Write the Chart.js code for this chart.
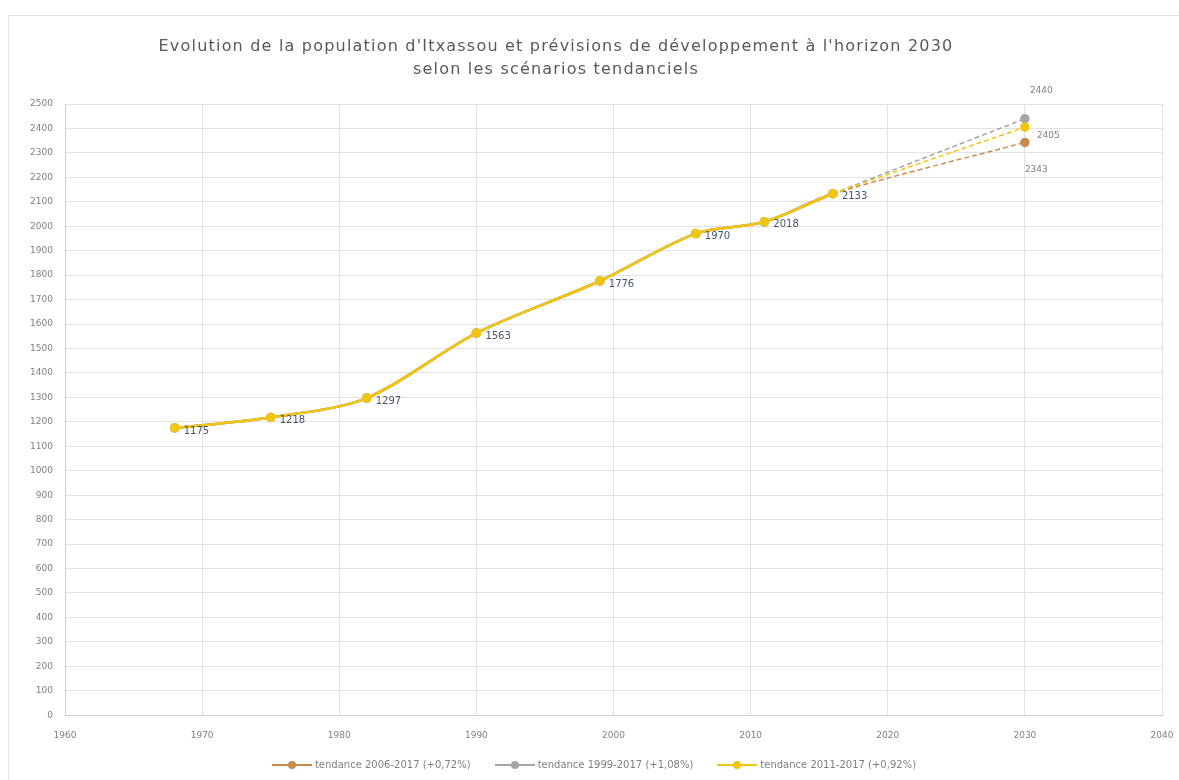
<!DOCTYPE html>
<html lang="fr">
<head>
  <meta charset="UTF-8">
  <title>Evolution de la population d'Itxassou</title>
  <script src="https://cdn.jsdelivr.net/npm/chart.js"></script>
  <style>
    body {
      margin: 0;
      background: #ffffff;
      font-family: "DejaVu Sans", Arial, sans-serif;
    }
    #frame {
      position: absolute;
      left: 8px;
      top: 15px;
      width: 1172px;
      height: 770px;
      border: 1px solid #e3e3e3;
      box-sizing: border-box;
    }
    #chart-wrap {
      position: absolute;
      left: 0;
      top: 0;
      width: 1179px;
      height: 780px;
    }
    #title {
      position: absolute;
      left: 0;
      width: 1112px;
      top: 34px;
      text-align: center;
      font-size: 16px;
      line-height: 23px;
      letter-spacing: 1.2px;
      color: #595959;
    }
    #legend {
      position: absolute;
      left: 0;
      width: 1188px;
      top: 759px;
      display: flex;
      justify-content: center;
      gap: 24px;
      font-size: 10px;
      color: #7f7f7f;
    }
    .item { display: flex; align-items: center; }
    .mark {
      position: relative;
      width: 40px;
      height: 2px;
      margin-right: 3px;
    }
    .mark::after {
      content: "";
      position: absolute;
      left: 16px;
      top: -3px;
      width: 8px;
      height: 8px;
      border-radius: 50%;
      background: inherit;
    }
  </style>
</head>
<body>
<div id="frame"></div>
<div id="chart-wrap">
  <canvas id="popChart"></canvas>
</div>
<div id="title">
  Evolution de la population d'Itxassou et prévisions de développement à l'horizon 2030<br>
  selon les scénarios tendanciels
</div>
<div id="legend"></div>

<script>
  // years and population (historic part shared by the three scenarios)
  const years = [1968, 1975, 1982, 1990, 1999, 2006, 2011, 2016];
  const population = [1175, 1218, 1297, 1563, 1776, 1970, 2018, 2133];
  const horizonYear = 2030;

  const scenarioNames = [
    "tendance 2006-2017 (+0,72%)",
    "tendance 1999-2017 (+1,08%)",
    "tendance 2011-2017 (+0,92%)"
  ];
  const scenario2030 = [2343, 2440, 2405];
  const scenarioColors = ['#C98A4E', '#A5A5A5', '#F2C511'];

  const yTicks = [];
  for (let v = 0; v <= 2500; v += 100) yTicks.push(v);

  function seriesFor(i) {
    const pts = years.map((y, k) => ({ x: y, y: population[k] }));
    pts.push({ x: horizonYear, y: scenario2030[i] });
    return pts;
  }

  const lastIndex = years.length; // index of the 2030 point

  const datasets = scenarioNames.map((name, i) => ({
    label: name,
    data: seriesFor(i),
    showLine: true,
    order: 2 - i, // yellow series drawn on top
    borderColor: scenarioColors[i],
    backgroundColor: scenarioColors[i],
    borderWidth: 2.5,
    pointRadius: 3.5,
    pointHoverRadius: 4,
    tension: 0.3,
    segment: {
      borderDash: ctx => ctx.p1DataIndex === lastIndex ? [5, 3] : undefined,
      borderWidth: ctx => ctx.p1DataIndex === lastIndex ? 1.5 : 2.5
    }
  }));

  // legend as plain html under the chart
  const legendEl = document.getElementById('legend');
  scenarioNames.forEach((name, i) => {
    const item = document.createElement('div');
    item.className = 'item';
    const mark = document.createElement('span');
    mark.className = 'mark';
    mark.style.background = scenarioColors[i];
    const txt = document.createElement('span');
    txt.textContent = name;
    item.appendChild(mark);
    item.appendChild(txt);
    legendEl.appendChild(item);
  });

  // value labels next to the points
  const valueLabels = {
    id: 'valueLabels',
    afterDatasetsDraw(chart) {
      const ctx = chart.ctx;
      ctx.save();
      ctx.textBaseline = 'middle';
      ctx.textAlign = 'left';
      const top = chart.getDatasetMeta(2);
      ctx.font = '10px "DejaVu Sans", Arial, sans-serif';
      ctx.fillStyle = '#44546A';
      top.data.forEach((pt, k) => {
        if (k >= lastIndex) return;
        ctx.fillText(String(population[k]), pt.x + 9, pt.y + 3);
      });
      ctx.font = '9px "DejaVu Sans", Arial, sans-serif';
      ctx.fillStyle = '#7f7f7f';
      const offsets = [[0, 27], [5, -28], [12, 8]];
      scenario2030.forEach((v, i) => {
        const pt = chart.getDatasetMeta(i).data[lastIndex];
        ctx.fillText(String(v), pt.x + offsets[i][0], pt.y + offsets[i][1]);
      });
      ctx.restore();
    }
  };

  const ctx = document.getElementById('popChart').getContext('2d');
  new Chart(ctx, {
    type: 'scatter',
    data: { datasets: datasets },
    plugins: [valueLabels],
    options: {
      responsive: true,
      maintainAspectRatio: false,
      animation: false,
      layout: { padding: { top: 104, right: 0, left: 0, bottom: 24 } },
      plugins: {
        title: { display: false },
        legend: { display: false },
        tooltip: { enabled: true }
      },
      scales: {
        x: {
          type: 'linear',
          min: 1960,
          max: 2040,
          afterFit(scale) { scale.paddingRight = 17; },
          ticks: {
            stepSize: 10,
            color: '#7f7f7f',
            font: { family: '"DejaVu Sans", Arial, sans-serif', size: 9 },
            callback: v => String(v),
            padding: 15
          },
          grid: { color: '#e2e2e2', drawTicks: false },
          border: { color: '#d0d0d0' }
        },
        y: {
          type: 'linear',
          min: 0,
          max: 2500,
          afterBuildTicks(scale) {
            scale.ticks = yTicks.map(v => ({ value: v }));
          },
          afterFit(scale) { scale.width = 65; scale.paddingTop = 0; },
          ticks: {
            autoSkip: false,
            color: '#7f7f7f',
            font: { family: '"DejaVu Sans", Arial, sans-serif', size: 9 },
            callback: v => String(v),
            padding: 12
          },
          grid: { color: '#e2e2e2', drawTicks: false },
          border: { color: '#d0d0d0' }
        }
      }
    }
  });
</script>
</body>
</html>
